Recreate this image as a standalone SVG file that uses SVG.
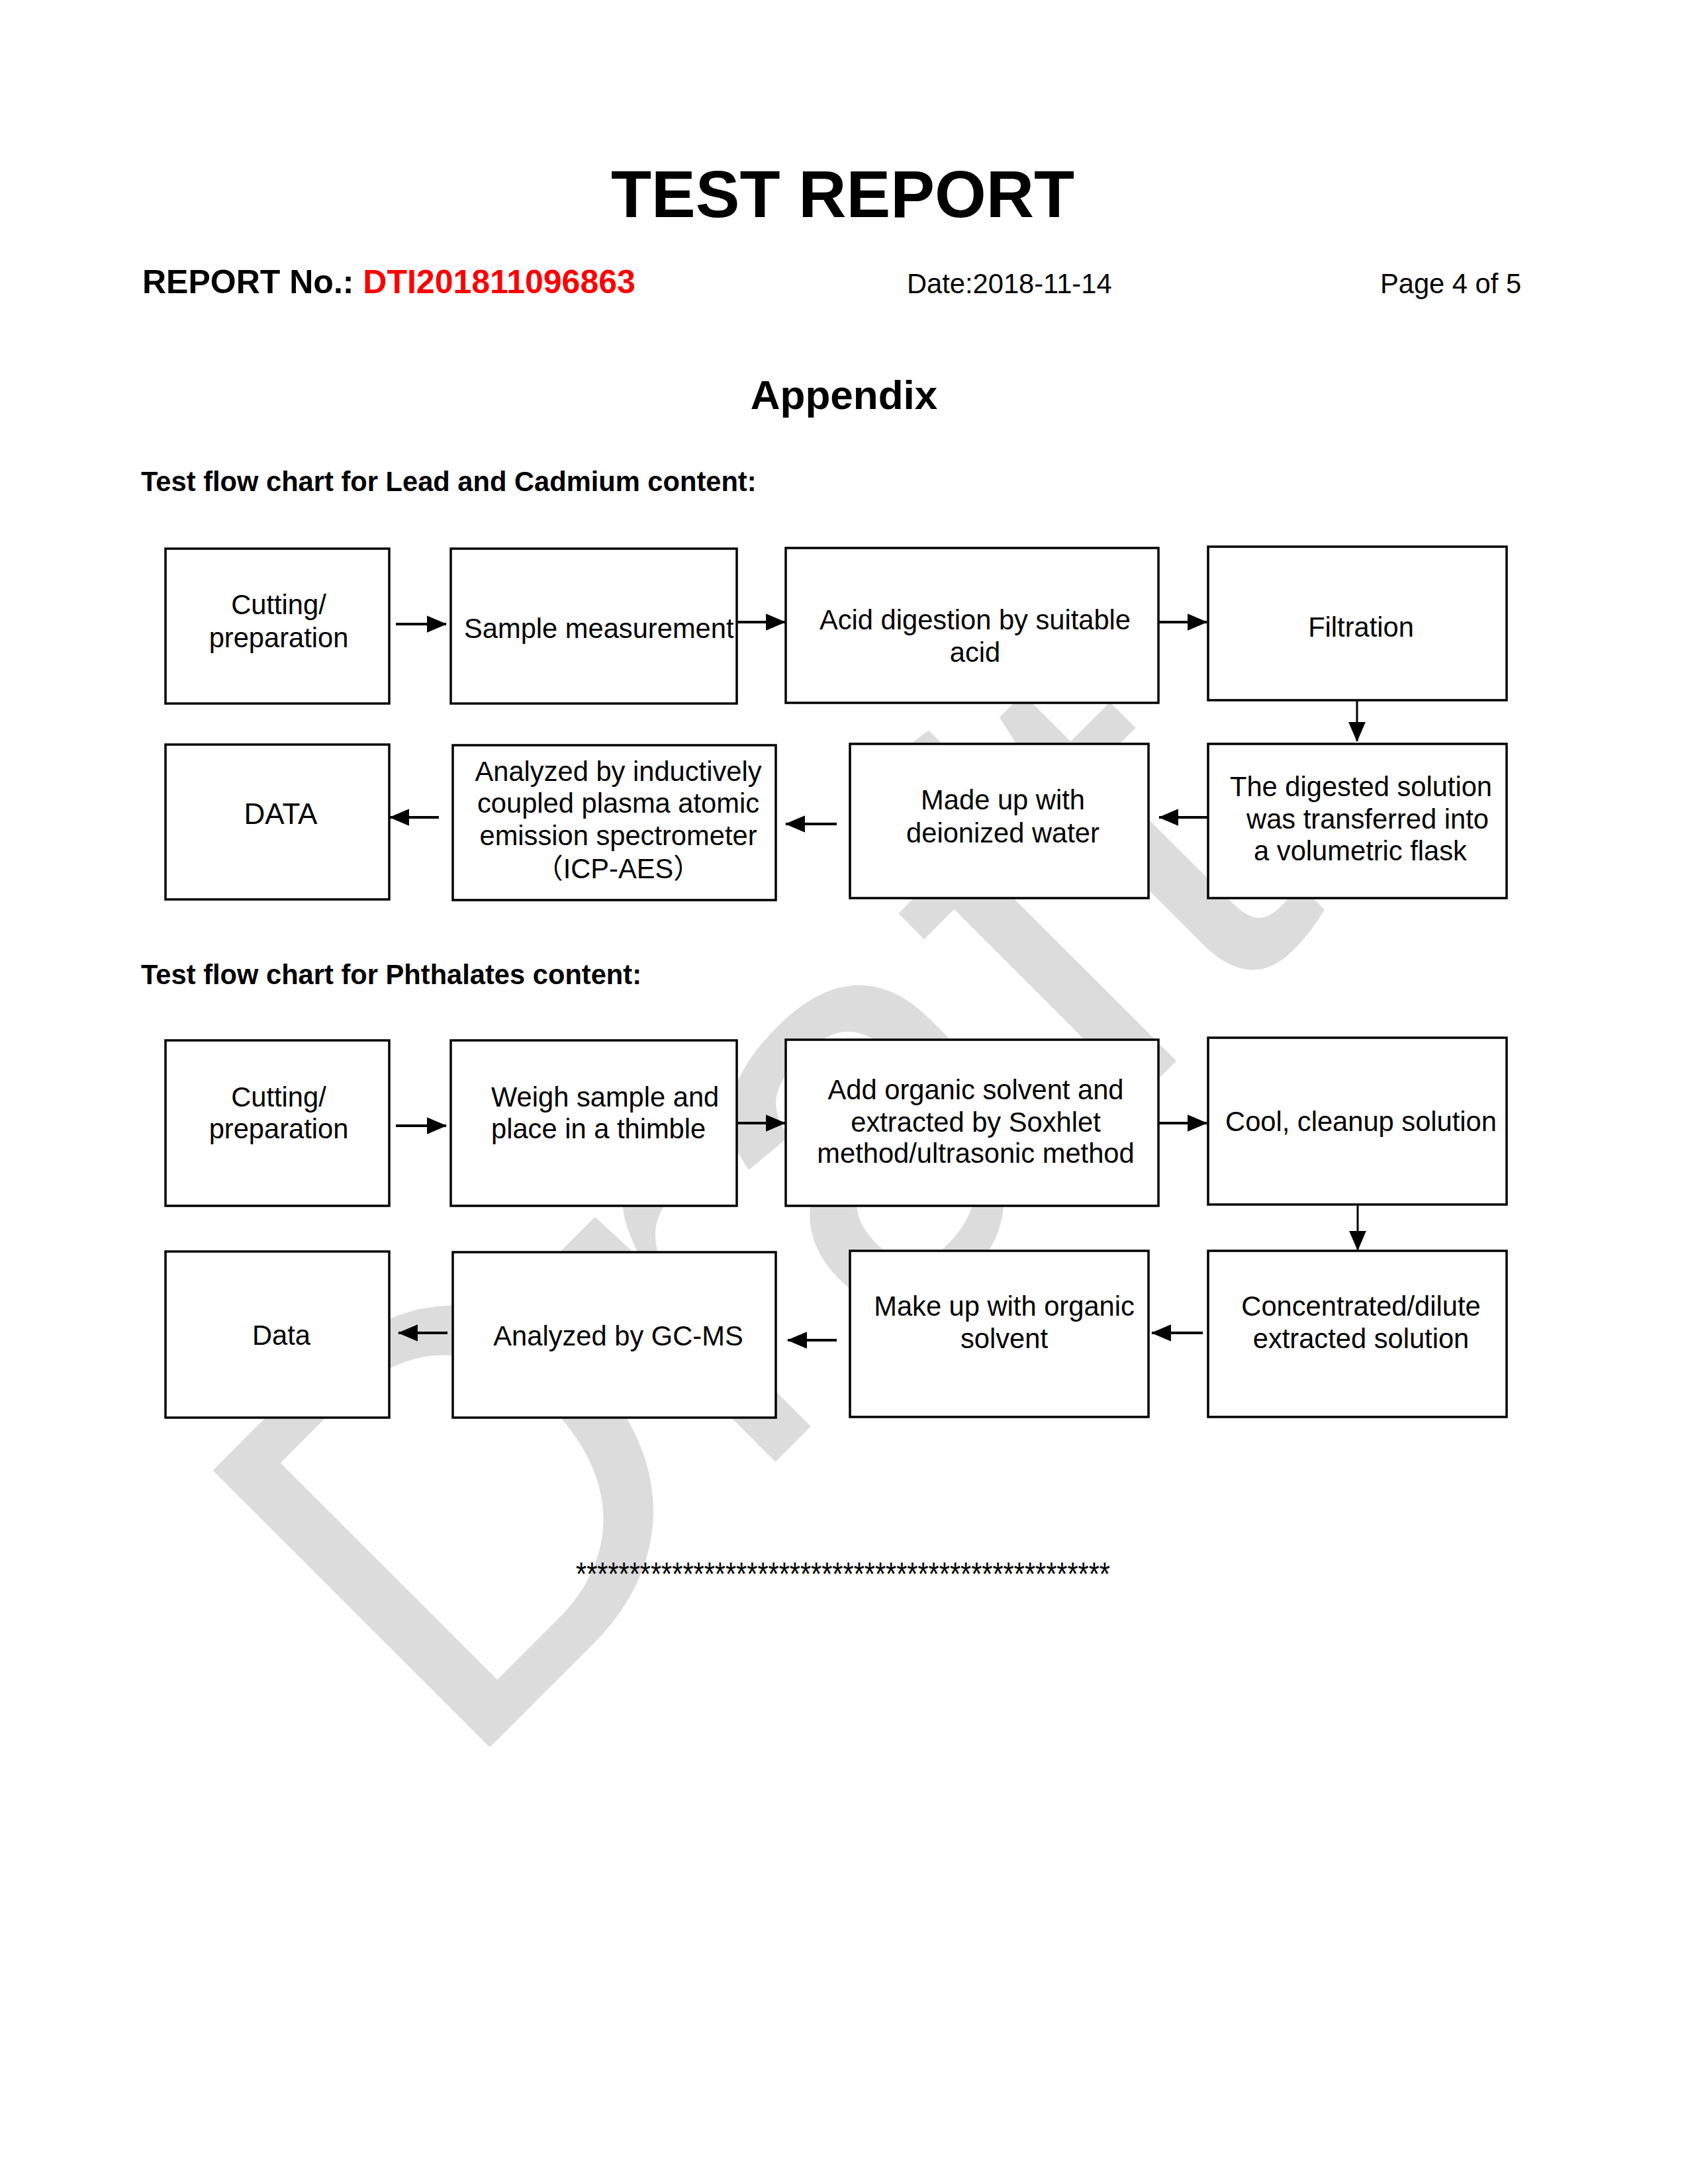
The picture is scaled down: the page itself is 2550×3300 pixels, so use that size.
<svg xmlns="http://www.w3.org/2000/svg" width="2550" height="3300" viewBox="0 0 2550 3300">
<style>
.bg{fill:#fff}
.wm{font-family:"Liberation Sans",Arial,sans-serif;font-size:860px;fill:#dcdcdc}
.box{fill:#fff;stroke:#000;stroke-width:3.5}
.t{font-family:"Liberation Sans",Arial,"Noto Sans CJK SC",sans-serif;font-size:41.67px;fill:#000}
.c{text-anchor:middle}
.b{font-weight:bold}
.conn line{stroke:#000;stroke-width:4}
.conn line.v{stroke-width:3}
</style>
<defs>
<marker id="ah" markerUnits="userSpaceOnUse" markerWidth="30" markerHeight="26" viewBox="0 0 28 24" refX="27" refY="12" orient="auto">
<path d="M0,0 L28,12 L0,24 Z" fill="#000"/>
</marker>
</defs>
<rect class="bg" x="0" y="0" width="2550" height="3300"/>
<g id="watermark">
<text class="wm" transform="translate(690,2690) rotate(-45)">Draft</text>
</g>
<g id="header">
<text class="t c b" x="1273" y="328" style="font-size:100px">TEST REPORT</text>
<text class="t b" x="215" y="443" style="font-size:50px">REPORT No.: <tspan fill="#ff0000">DTI201811096863</tspan></text>
<text class="t" x="1370" y="443">Date:2018-11-14</text>
<text class="t" x="2085" y="443">Page 4 of 5</text>
<text class="t c b" x="1275" y="618" style="font-size:62px">Appendix</text>
<text class="t b" x="213" y="742">Test flow chart for Lead and Cadmium content:</text>
<text class="t b" x="213" y="1487">Test flow chart for Phthalates content:</text>
</g>
<g id="connectors" class="conn">
<line x1="598" y1="943" x2="674" y2="943" marker-end="url(#ah)"/>
<line x1="1113" y1="940" x2="1186" y2="940" marker-end="url(#ah)"/>
<line x1="1750" y1="940" x2="1823" y2="940" marker-end="url(#ah)"/>
<line class="v" x1="2050" y1="1058" x2="2050" y2="1120" marker-end="url(#ah)"/>
<line x1="1825" y1="1235" x2="1751" y2="1235" marker-end="url(#ah)"/>
<line x1="1264" y1="1245" x2="1187" y2="1245" marker-end="url(#ah)"/>
<line x1="663" y1="1235" x2="589" y2="1235" marker-end="url(#ah)"/>
<line x1="598" y1="1701" x2="674" y2="1701" marker-end="url(#ah)"/>
<line x1="1113" y1="1697" x2="1186" y2="1697" marker-end="url(#ah)"/>
<line x1="1750" y1="1697" x2="1823" y2="1697" marker-end="url(#ah)"/>
<line class="v" x1="2051" y1="1820" x2="2051" y2="1889" marker-end="url(#ah)"/>
<line x1="1817" y1="2014" x2="1740" y2="2014" marker-end="url(#ah)"/>
<line x1="1264" y1="2025" x2="1190" y2="2025" marker-end="url(#ah)"/>
<line x1="676" y1="2014" x2="602" y2="2014" marker-end="url(#ah)"/>
</g>
<g id="n1"><rect class="box" x="250" y="829" width="338" height="234"/>
<text class="t c" x="421" y="928">Cutting/</text><text class="t c" x="421" y="978">preparation</text></g>
<g id="n2"><rect class="box" x="681" y="829" width="432" height="234"/>
<text class="t" x="701" y="964">Sample measurement</text></g>
<g id="n3"><rect class="box" x="1187" y="828" width="563" height="234"/>
<text class="t c" x="1473" y="951">Acid digestion by suitable</text><text class="t c" x="1473" y="1000">acid</text></g>
<g id="n4"><rect class="box" x="1825" y="826" width="451" height="232"/>
<text class="t c" x="2056" y="962">Filtration</text></g>
<g id="n5"><rect class="box" x="1825" y="1124" width="451" height="233"/>
<text class="t c" x="2056" y="1203">The digested solution</text><text class="t c" x="2066" y="1252">was transferred into</text><text class="t c" x="2055" y="1300">a volumetric flask</text></g>
<g id="n6"><rect class="box" x="1284" y="1124" width="451" height="233"/>
<text class="t c" x="1515" y="1223">Made up with</text><text class="t c" x="1515" y="1273">deionized water</text></g>
<g id="n7"><rect class="box" x="684" y="1126" width="488" height="234"/>
<text class="t c" x="934" y="1180">Analyzed by inductively</text><text class="t c" x="934" y="1228">coupled plasma atomic</text><text class="t c" x="934" y="1277">emission spectrometer</text><text class="t c" x="934" y="1327">（ICP-AES）</text></g>
<g id="n8"><rect class="box" x="250" y="1125" width="338" height="234"/>
<text class="t c" x="424" y="1245" style="font-size:44px">DATA</text></g>
<g id="n9"><rect class="box" x="250" y="1572" width="338" height="250"/>
<text class="t c" x="421" y="1672">Cutting/</text><text class="t c" x="421" y="1720">preparation</text></g>
<g id="n10"><rect class="box" x="681" y="1572" width="432" height="250"/>
<text class="t" x="742" y="1672">Weigh sample and</text><text class="t" x="742" y="1720">place in a thimble</text></g>
<g id="n11"><rect class="box" x="1187" y="1571" width="563" height="251"/>
<text class="t c" x="1474" y="1661">Add organic solvent and</text><text class="t c" x="1474" y="1710">extracted by Soxhlet</text><text class="t c" x="1474" y="1757">method/ultrasonic method</text></g>
<g id="n12"><rect class="box" x="1825" y="1568" width="451" height="252"/>
<text class="t c" x="2056" y="1709">Cool, cleanup solution</text></g>
<g id="n13"><rect class="box" x="1825" y="1890" width="451" height="251"/>
<text class="t c" x="2056" y="1988">Concentrated/dilute</text><text class="t c" x="2056" y="2037">extracted solution</text></g>
<g id="n14"><rect class="box" x="1284" y="1890" width="451" height="251"/>
<text class="t c" x="1517" y="1988">Make up with organic</text><text class="t c" x="1517" y="2037">solvent</text></g>
<g id="n15"><rect class="box" x="684" y="1892" width="488" height="250"/>
<text class="t c" x="934" y="2033">Analyzed by GC-MS</text></g>
<g id="n16"><rect class="box" x="250" y="1891" width="338" height="251"/>
<text class="t c" x="425" y="2032">Data</text></g>
<g id="footer">
<text class="t" x="870" y="2396" style="font-size:50px" textLength="807" lengthAdjust="spacingAndGlyphs">**************************************************</text>
</g>
</svg>
